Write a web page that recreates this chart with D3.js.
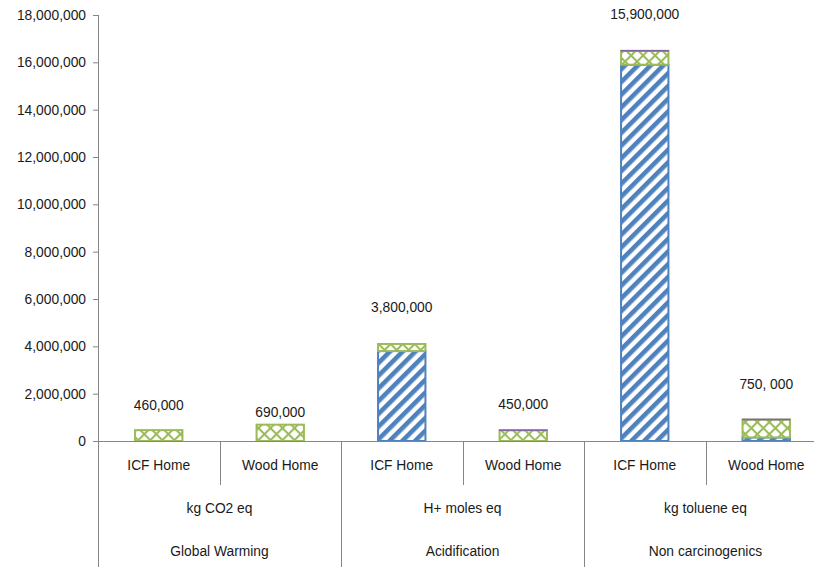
<!DOCTYPE html>
<html>
<head>
<meta charset="utf-8">
<script src="https://cdn.jsdelivr.net/npm/d3@7/dist/d3.min.js"></script>
<style>
  html, body { margin: 0; padding: 0; background: #fff; }
  svg { display: block; font-family: "Liberation Sans", Arial, sans-serif; }
</style>
</head>
<body>
<svg id="chart" width="814" height="567"></svg>
<script>
// Impact categories, their units and the two home types
const impacts = ["Global Warming", "Acidification", "Non carcinogenics"];
const units = ["kg CO2 eq", "H+ moles eq", "kg toluene eq"];
const homes = ["ICF Home", "Wood Home"];

// Stacked series, one value per bar (impact x home, in order)
const seriesBlue   = [0, 0, 3800000, 0, 15900000, 150000];
const seriesGreen  = [460000, 690000, 300000, 450000, 580000, 750000];
const seriesPurple = [0, 0, 0, 15000, 20000, 20000];

// Value annotations above each bar
const valueLabels = ["460,000", "690,000", "3,800,000", "450,000", "15,900,000", "750, 000"];

// Y axis ticks
const yTicks = [0, 2000000, 4000000, 6000000, 8000000, 10000000, 12000000, 14000000, 16000000, 18000000];

// ---- layout ----
const plotLeft = 98, plotRight = 827, plotTop = 15, baseline = 441, plotBottom = 567;
const labelLift = [25, 13, 37, 26, 36, 35];
const fontSize = "13.8px";
const textColor = "#1a1a1a";

const svg = d3.select("#chart");
const axisColor = "#868686";

const bars = [];
impacts.forEach((imp, i) => homes.forEach((h, j) => bars.push({ key: imp + "|" + h, impact: i, home: h })));

const x = d3.scaleBand().domain(bars.map(b => b.key)).range([plotLeft, plotRight]).paddingInner(0).paddingOuter(0);
const y = d3.scaleLinear().domain([0, 18000000]).range([baseline, plotTop]);

// fill patterns
const defs = svg.append("defs");
const stripe = defs.append("pattern").attr("id", "pat-blue").attr("patternUnits", "userSpaceOnUse")
  .attr("width", 9).attr("height", 9).attr("patternTransform", "rotate(45)");
stripe.append("rect").attr("width", 9).attr("height", 9).attr("fill", "#fff");
stripe.append("rect").attr("x", 0).attr("width", 4.6).attr("height", 9).attr("fill", "#4F81BD");

function crossPattern(id, color) {
  const p = defs.append("pattern").attr("id", id).attr("patternUnits", "userSpaceOnUse")
    .attr("width", 8.5).attr("height", 8.5).attr("patternTransform", "rotate(45)");
  p.append("rect").attr("width", 8.5).attr("height", 8.5).attr("fill", "#fff");
  p.append("rect").attr("x", 0).attr("width", 2).attr("height", 8.5).attr("fill", color);
  p.append("rect").attr("y", 0).attr("width", 8.5).attr("height", 2).attr("fill", color);
}
crossPattern("pat-green", "#9BBB59");
crossPattern("pat-purple", "#8064A2");

// stacked data
const stackRows = bars.map((b, i) => ({ key: b.key, blue: seriesBlue[i], green: seriesGreen[i], purple: seriesPurple[i] }));
const stack = d3.stack().keys(["blue", "green", "purple"])(stackRows);
const styles = {
  blue: { fill: "url(#pat-blue)", stroke: "#4F81BD" },
  green: { fill: "url(#pat-green)", stroke: "#9BBB59" },
  purple: { fill: "url(#pat-purple)", stroke: "#8064A2" }
};

const barW = x.bandwidth() * 0.39;

// y axis
const yAxis = d3.axisLeft(y).tickValues(yTicks).tickFormat(d3.format(",")).tickSize(5).tickPadding(7);
const gy = svg.append("g").attr("transform", `translate(${plotLeft},0)`).call(yAxis);
gy.select(".domain").remove();
gy.selectAll(".tick line").attr("stroke", axisColor);
gy.selectAll(".tick text").attr("fill", textColor).style("font-size", fontSize).style("font-family", "'Liberation Sans', Arial, sans-serif");
svg.append("line").attr("x1", plotLeft + 0.5).attr("x2", plotLeft + 0.5).attr("y1", plotTop).attr("y2", plotBottom)
  .attr("stroke", axisColor);

// bars
stack.forEach(layer => {
  const st = styles[layer.key];
  svg.append("g").selectAll("rect")
    .data(layer.filter(d => d[1] - d[0] > 0))
    .join("rect")
    .attr("x", d => x(d.data.key) + (x.bandwidth() - barW) / 2)
    .attr("width", barW)
    .attr("y", d => y(d[1]))
    .attr("height", d => y(d[0]) - y(d[1]))
    .attr("fill", st.fill)
    .attr("stroke", st.stroke)
    .attr("stroke-width", layer.key === "purple" ? 1.2 : 2);
});

// baseline
svg.append("line").attr("x1", plotLeft).attr("x2", plotRight).attr("y1", baseline + 0.5).attr("y2", baseline + 0.5)
  .attr("stroke", axisColor);

// value annotations
svg.append("g").selectAll("text")
  .data(bars)
  .join("text")
  .attr("x", d => x(d.key) + x.bandwidth() / 2)
  .attr("y", (d, i) => y(seriesBlue[i] + seriesGreen[i] + seriesPurple[i]) - labelLift[i])
  .attr("dy", "0.35em")
  .attr("text-anchor", "middle")
  .attr("fill", textColor)
  .style("font-size", fontSize)
  .text((d, i) => valueLabels[i]);

// category axis: separators
const sep = svg.append("g").attr("stroke", axisColor);
bars.forEach((b, i) => {
  if (i === 0) return;
  const xx = Math.round(x(b.key)) + 0.5;
  const groupStart = i % homes.length === 0;
  sep.append("line").attr("x1", xx).attr("x2", xx).attr("y1", baseline).attr("y2", groupStart ? plotBottom : 485);
});
sep.append("line").attr("x1", Math.round(plotRight) + 0.5).attr("x2", Math.round(plotRight) + 0.5).attr("y1", baseline).attr("y2", plotBottom);

// category axis: labels
const cat = svg.append("g").attr("fill", textColor).style("font-size", fontSize).attr("text-anchor", "middle");
bars.forEach(b => {
  cat.append("text").attr("x", x(b.key) + x.bandwidth() / 2).attr("y", 465).attr("dy", "0.35em").text(b.home);
});
impacts.forEach((imp, i) => {
  const x0 = x(imp + "|" + homes[0]);
  const x1 = x(imp + "|" + homes[homes.length - 1]) + x.bandwidth();
  const cx = (x0 + x1) / 2;
  cat.append("text").attr("x", cx).attr("y", 508).attr("dy", "0.35em").text(units[i]);
  cat.append("text").attr("x", cx).attr("y", 551).attr("dy", "0.35em").text(imp);
});
</script>
</body>
</html>
